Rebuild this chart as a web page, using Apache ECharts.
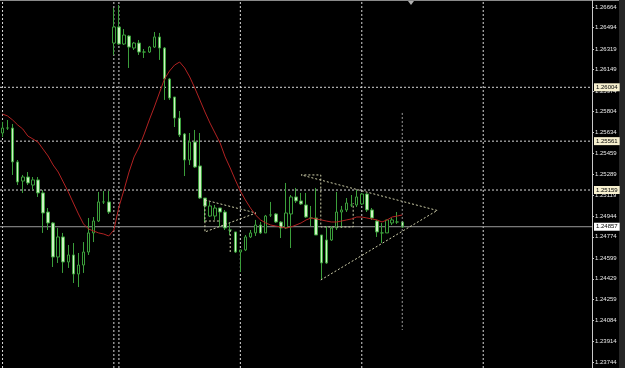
<!DOCTYPE html>
<html><head><meta charset="utf-8">
<script src="https://cdn.jsdelivr.net/npm/echarts@6/dist/echarts.min.js"></script>
<style>html,body{margin:0;padding:0;background:#000;}#c{width:625px;height:368px;}</style>
</head><body><div id="c"></div>
<script>
// ---- data ----
const opens = [1.25628,1.25669,1.25669,1.25390,1.25233,1.25266,1.25200,1.25242,1.25135,1.24978,
1.24888,1.24608,1.24773,1.24567,1.24625,1.24468,1.24542,1.24649,1.24806,1.24904,
1.25061,1.25061,1.26368,1.26500,1.26360,1.26426,1.26327,1.26368,1.26294,1.26294,
1.26335,1.26418,1.26327,1.26072,1.25924,1.25751,1.25620,1.25406,1.25554,1.25357,
1.25093,1.24945,1.24945,1.25011,1.24978,1.24830,1.24814,1.24649,1.24666,1.24773,
1.24806,1.24871,1.24806,1.24954,1.24962,1.24896,1.24847,1.24962,1.25102,1.25069,
1.25036,1.24929,1.24929,1.24789,1.24748,1.24748,1.24847,1.24978,1.24995,1.25036,
1.25036,1.25044,1.25126,1.24995,1.24904,1.24806,1.24806,1.24888,1.24896,1.24896];
const closes = [1.25669,1.25669,1.25390,1.25225,1.25266,1.25217,1.25242,1.25135,1.24970,1.24888,
1.24608,1.24773,1.24567,1.24625,1.24468,1.24542,1.24649,1.24806,1.24904,1.25061,
1.25061,1.24978,1.26500,1.26360,1.26434,1.26335,1.26368,1.26294,1.26294,1.26335,
1.26418,1.26327,1.26072,1.25916,1.25751,1.25612,1.25406,1.25554,1.25348,1.25093,
1.25028,1.25028,1.25011,1.24978,1.24847,1.24830,1.24649,1.24666,1.24773,1.24806,
1.24871,1.24806,1.24945,1.24954,1.24896,1.24847,1.24970,1.25102,1.25069,1.25044,
1.24937,1.24929,1.24789,1.24559,1.24559,1.24847,1.24978,1.24995,1.25052,1.25036,
1.25102,1.25126,1.24995,1.24929,1.24814,1.24806,1.24913,1.24913,1.24896,1.24855];
const lows = [1.25595,1.25653,1.25283,1.25200,1.25135,1.25200,1.25159,1.25102,1.24806,1.24830,
1.24526,1.24559,1.24477,1.24518,1.24394,1.24361,1.24477,1.24625,1.24731,1.24896,
1.25044,1.24962,1.26270,1.26352,1.26352,1.26163,1.26311,1.26270,1.26245,1.26286,
1.26327,1.26229,1.25900,1.25900,1.25677,1.25595,1.25274,1.25365,1.25340,1.25085,
1.24896,1.24937,1.24913,1.24855,1.24830,1.24789,1.24641,1.24485,1.24657,1.24764,
1.24781,1.24797,1.24806,1.24937,1.24888,1.24764,1.24838,1.24682,1.25052,1.25036,
1.24929,1.24863,1.24789,1.24427,1.24551,1.24740,1.24830,1.24847,1.24978,1.25019,
1.25019,1.25036,1.24978,1.24913,1.24773,1.24723,1.24806,1.24871,1.24880,1.24847];
const highs = [1.25719,1.25735,1.25702,1.25406,1.25283,1.25307,1.25266,1.25266,1.25159,1.25011,
1.24896,1.24847,1.24806,1.24707,1.24723,1.24641,1.24731,1.24929,1.24937,1.25143,
1.25151,1.25151,1.26656,1.26681,1.26483,1.26434,1.26377,1.26393,1.26319,1.26344,
1.26459,1.26451,1.26335,1.26080,1.25924,1.25809,1.25628,1.25628,1.25653,1.25628,
1.25093,1.25061,1.25036,1.25011,1.24995,1.24888,1.24814,1.24666,1.24789,1.24830,
1.24913,1.24896,1.24954,1.25061,1.24970,1.24904,1.25217,1.25118,1.25176,1.25135,
1.25135,1.25028,1.25176,1.24789,1.24863,1.24863,1.25143,1.25028,1.25093,1.25118,
1.25159,1.25135,1.25135,1.25011,1.24913,1.24888,1.24913,1.24929,1.24978,1.24904];
const maValues = [1.25784,1.25768,1.25735,1.25694,1.25661,1.25603,1.25579,1.25554,1.25496,1.25439,
1.25365,1.25307,1.25225,1.25143,1.25052,1.24962,1.24880,1.24838,1.24822,1.24806,
1.24797,1.24781,1.24830,1.25019,1.25159,1.25307,1.25431,1.25513,1.25620,1.25735,
1.25842,1.25957,1.26072,1.26138,1.26187,1.26212,1.26163,1.26089,1.25998,1.25900,
1.25801,1.25710,1.25628,1.25546,1.25431,1.25340,1.25242,1.25151,1.25077,1.25011,
1.24954,1.24913,1.24888,1.24871,1.24863,1.24855,1.24847,1.24855,1.24871,1.24888,
1.24913,1.24929,1.24921,1.24913,1.24904,1.24896,1.24896,1.24904,1.24913,1.24921,
1.24937,1.24937,1.24929,1.24921,1.24913,1.24896,1.24913,1.24937,1.24945,1.24954];
const slotCount = 117;
const categories = Array.from({length: slotCount}, (_, i) => 'bar' + i);
const yTicks = [1.26664,1.26494,1.26319,1.26149,1.25974,1.25804,1.25634,1.25459,1.25289,1.25119,
1.24944,1.24774,1.24599,1.24429,1.24259,1.24084,1.23914,1.23744];
const yMin = 1.23695, yMax = 1.26722;
const levelLines = [1.26004, 1.25561, 1.25159];
const bidPrice = 1.24857;
const separatorBars = [0, 22, 23, 47, 71, 95];
// drawn objects: [bar position, price]
const smallTriangle = [[40,1.25077],[50.1,1.24970],[40,1.24814],[40,1.25077]];
const smallTick = [[40,1.24904],[43.2,1.24904]];
const smallVertical = [[45,1.24830],[45,1.24641]];
const bigTriangleTop = [[85.9,1.24991],[59,1.25283],[62.9,1.25283],[62.9,1.24855],[69.3,1.24855],[69.3,1.25052]];
const bigTriangleBottom = [[62.9,1.24419],[85.9,1.24991]];
const lastBarLine = [[79,1.25793],[79,1.24008]];

// ---- chart ----
const candleData = opens.map((o, i) => [o, closes[i], lows[i], highs[i]]);
const green = '#3b9e3b';
const objColor = '#cfcfaa';
const dotStyle = (c) => ({color: c, width: 1, type: [2, 2]});
const objSeries = (d, c, z) => ({type: 'line', xAxisIndex: 1, yAxisIndex: 0, data: d, symbol: 'none',
  silent: true, lineStyle: dotStyle(c || objColor), z: z || 4});
const levelSeries = (v, lineStyle, bg) => ({type: 'line', xAxisIndex: 1, yAxisIndex: 0, symbol: 'none',
  silent: true, z: 2, clip: false, lineStyle: lineStyle,
  data: [[-0.5, v], [slotCount - 0.5, v]],
  endLabel: {show: true, distance: 2, formatter: () => v.toFixed(5), backgroundColor: bg,
    color: '#000', fontSize: 6, fontFamily: 'Liberation Sans', padding: [1, 2, 1, 2]}});

const series = [
  {type: 'candlestick', data: candleData, barWidth: 3, z: 3,
    itemStyle: {color: '#000', color0: '#cdf3c3', borderColor: green, borderColor0: green,
      borderColorDoji: green, borderWidth: 1}},
  {type: 'line', data: maValues, symbol: 'none', silent: true, z: 5,
    lineStyle: {color: '#b22222', width: 1}},
  objSeries(smallTriangle), objSeries(smallTick), objSeries(smallVertical),
  objSeries(bigTriangleTop), objSeries(bigTriangleBottom), objSeries(lastBarLine, '#9c9c9c')
];
separatorBars.forEach(i => series.push(objSeries([[i, yMin], [i, yMax]], '#d8d8d8', 1)));
levelLines.forEach(v => series.push(levelSeries(v, dotStyle('#d8d8d8'), '#f7f0cf')));
series.push(levelSeries(bidPrice, {color: '#9a9a9a', width: 1, type: 'solid'}, '#ffffff'));

const chart = echarts.init(document.getElementById('c'), null, {renderer: 'canvas'});
chart.setOption({
  backgroundColor: '#000',
  animation: false,
  grid: {left: 0, right: 33, top: 0, bottom: 0},
  xAxis: [
    {type: 'category', data: categories, boundaryGap: true, show: false},
    {type: 'value', min: -0.5, max: slotCount - 0.5, show: false}
  ],
  yAxis: {
    type: 'value', position: 'right', min: yMin, max: yMax,
    axisLine: {show: true, onZero: false, lineStyle: {color: '#c8c8c8'}},
    axisTick: {show: true, length: 2, customValues: yTicks, lineStyle: {color: '#c8c8c8'}},
    axisLabel: {customValues: yTicks, color: '#e8e8e8', fontSize: 6, margin: 3,
      fontFamily: 'Liberation Sans', formatter: v => v.toFixed(5)},
    splitLine: {show: false}
  },
  series: series,
  graphic: [
    {type: 'rect', shape: {x: 0, y: 0, width: 625, height: 1}, style: {fill: '#8a8a8a'}, silent: true},
    {type: 'polygon', shape: {points: [[408, 1], [414, 1], [411, 5]]}, style: {fill: '#b0b0b0'}, silent: true},
    {type: 'rect', shape: {x: 619, y: 0, width: 6, height: 368}, style: {fill: '#262626'}, silent: true}
  ]
});
</script></body></html>
